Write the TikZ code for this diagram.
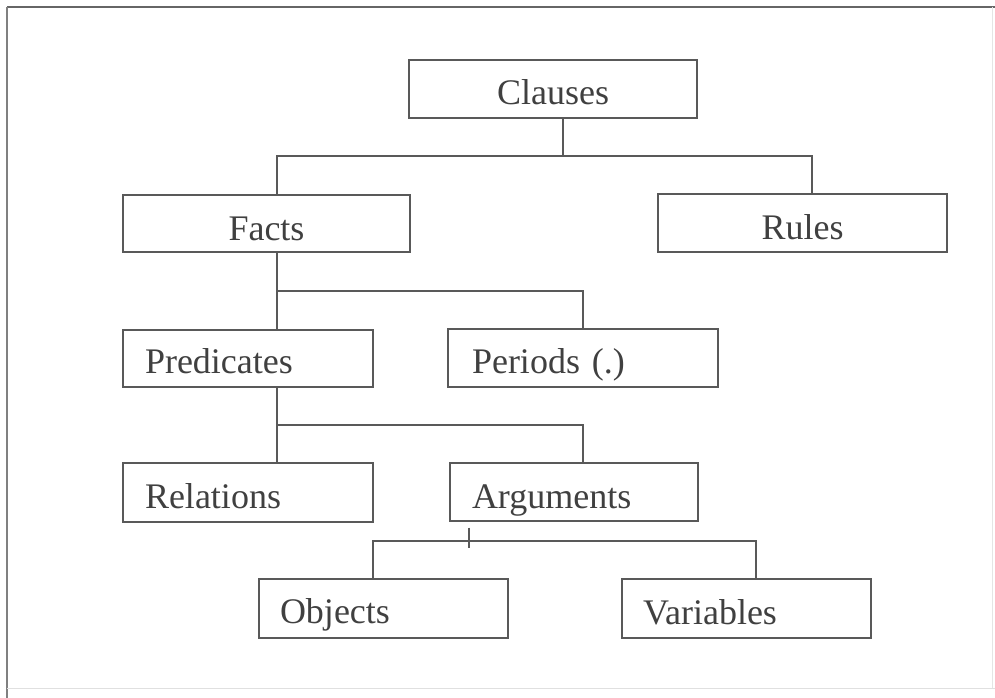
\documentclass[tikz,border=0pt]{standalone}
\usepackage{fontspec}
\setmainfont{Liberation Serif}
\begin{document}
\begin{tikzpicture}[x=1pt,y=-1pt,
  line width=1.4pt,
  every node/.style={font=\fontsize{36}{40}\selectfont, text=black!75},
  cbox/.style={draw=black!65, line width=1.4pt, inner ysep=0pt, inner xsep=0pt, align=center},
  lbox/.style={draw=black!65, line width=1.4pt, inner ysep=0pt, inner xsep=22pt, align=left},
  conn/.style={draw=black!65, line width=1.4pt}]
\useasboundingbox (0,0) rectangle (995,698);
% frame
\draw[black!60, line width=1.6pt] (7,7) -- (995,7);
\draw[black!50, line width=1.6pt] (7,7) -- (7,698);
\draw[black!12, line width=1pt] (7,688) -- (995,688);
\draw[black!10, line width=1pt] (992,7) -- (992,688);
% boxes
\node[cbox, text width=288pt, text height=45pt, text depth=13pt] (clauses) at (553,89) {Clauses};
\node[cbox, text width=287pt, text height=45pt, text depth=12pt] (facts) at (266.5,223.5) {Facts};
\node[cbox, text width=289pt, text height=45pt, text depth=13pt] (rules) at (802.5,223) {Rules};
\node[lbox, text width=206pt, text height=43pt, text depth=14pt] (pred) at (248,358.5) {Predicates};
\node[lbox, inner xsep=24pt, text width=222pt, text height=44pt, text depth=14pt] (periods) at (583,358) {Periods (.)};
\node[lbox, text width=206pt, text height=45pt, text depth=14pt] (rel) at (248,492.5) {Relations};
\node[lbox, text width=204pt, text height=45pt, text depth=13pt] (args) at (574,492) {Arguments};
\node[lbox, inner xsep=21pt, text width=207pt, text height=44pt, text depth=15pt] (obj) at (383.5,608.5) {Objects};
\node[lbox, inner xsep=21pt, text width=207pt, text height=45pt, text depth=14pt] (var) at (746.5,608.5) {Variables};
% junction coordinates
\coordinate (b1) at (563,156);
\coordinate (xF) at (277,0);
\coordinate (xR) at (812,0);
\coordinate (xP) at (583,0);
\coordinate (b2) at (277,291);
\coordinate (b3) at (277,425);
\coordinate (b4) at (469,541);
\coordinate (xO) at (373,0);
\coordinate (xV) at (756,0);
% connectors
\draw[conn] (clauses.south -| b1) -- (b1);
\draw[conn] (facts.north -| xF) |- (b1) -| (rules.north -| xR);
\draw[conn] (facts.south -| xF) -- (pred.north -| xF);
\draw[conn] (b2) -| (periods.north -| xP);
\draw[conn] (pred.south -| xF) -- (rel.north -| xF);
\draw[conn] (b3) -| (args.north -| xP);
\draw[conn] (args.south -| b4) ++(0,6) -- ++(0,20);
\draw[conn] (obj.north -| xO) |- (b4) -| (var.north -| xV);
\end{tikzpicture}
\end{document}
